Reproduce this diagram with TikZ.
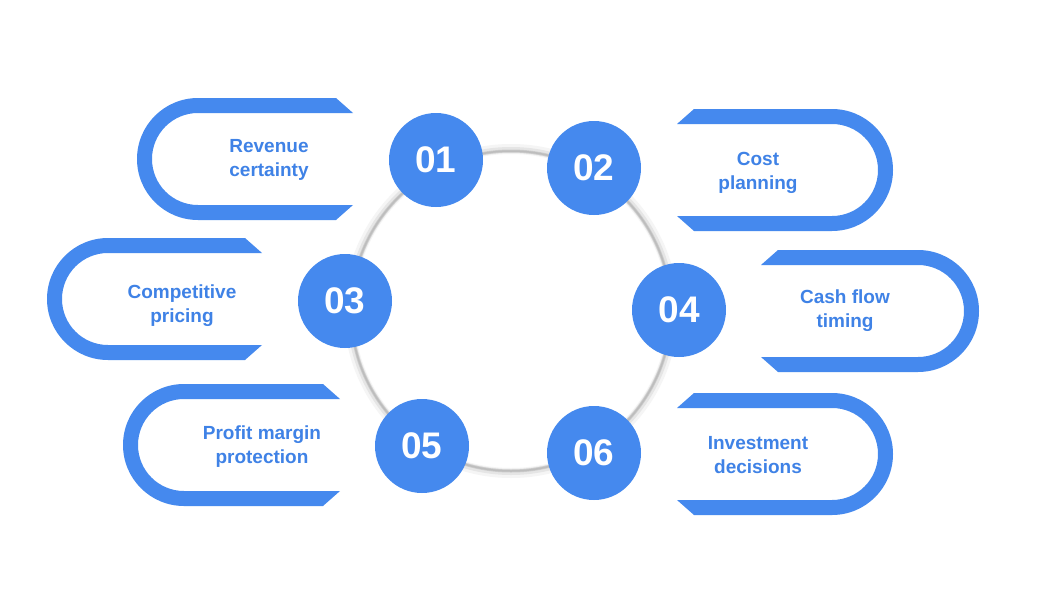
\documentclass[tikz,border=0pt]{standalone}
\usepackage{fontspec}
\setmainfont{Liberation Sans}
\definecolor{pillblue}{HTML}{4589EE}
\definecolor{txtblue}{HTML}{3F82E6}
\newcommand\pillLeft[3]{% #1 outer left x, #2 top y, #3 inner right end x
  \fill[pillblue] (#3-17,#2) -- (#1+61,#2) arc[start angle=-90,end angle=-270,radius=61]
    -- (#3-17,#2+122) -- (#3,#2+107) -- (#1+61,#2+107)
    arc[start angle=90,end angle=270,radius=46] -- (#3,#2+15) -- cycle;}
\newcommand\pillRight[3]{% #1 inner left end x, #2 top y, #3 outer right x
  \fill[pillblue] (#1+17,#2) -- (#3-61,#2) arc[start angle=-90,end angle=90,radius=61]
    -- (#1+17,#2+122) -- (#1,#2+107) -- (#3-61,#2+107)
    arc[start angle=90,end angle=-90,radius=46] -- (#1,#2+15) -- cycle;}
\tikzset{
  num/.style={circle,fill=pillblue,minimum size=94pt,inner sep=0pt,text=white,
    font=\fontsize{37}{40}\selectfont\bfseries},
  lbl/.style={align=center,text=txtblue,font=\fontsize{19}{24}\selectfont\bfseries}
}
\begin{document}
\begin{tikzpicture}[x=1pt,y=-1pt]
\useasboundingbox[fill=white] (0,0) rectangle (1050,600);
% ring with soft shadow
\coordinate (c) at (511,311);
\draw[line width=10pt,black!4] (c) circle[radius=162];
\draw[line width=6pt,black!10] (c) circle[radius=161];
\draw[line width=3pt,black!20] (c) circle[radius=160];
\draw[line width=1.5pt,black!26] (c) circle[radius=160];
% pills
\pillLeft{137}{98}{353}
\pillRight{677}{109}{893}
\pillLeft{47}{238}{262}
\pillRight{761}{250}{979}
\pillLeft{123}{384}{340}
\pillRight{677}{393}{893}
% labels
\node[lbl] (t1) at (269,160) {Revenue\\certainty};
\node[lbl] (t2) at (758,173) {Cost\\planning};
\node[lbl] (t3) at (182,306) {Competitive\\pricing};
\node[lbl] (t4) at (845,311) {Cash flow\\timing};
\node[lbl] (t5) at (262,447) {Profit margin\\protection};
\node[lbl] (t6) at (758,455) {Investment\\decisions};
% numbers
\node[num] (n1) at (436,160) {01};
\node[num] (n2) at (594,168) {02};
\node[num] (n3) at (345,301) {03};
\node[num] (n4) at (679,310) {04};
\node[num] (n5) at (422,446) {05};
\node[num] (n6) at (594,453) {06};
\end{tikzpicture}
\end{document}
